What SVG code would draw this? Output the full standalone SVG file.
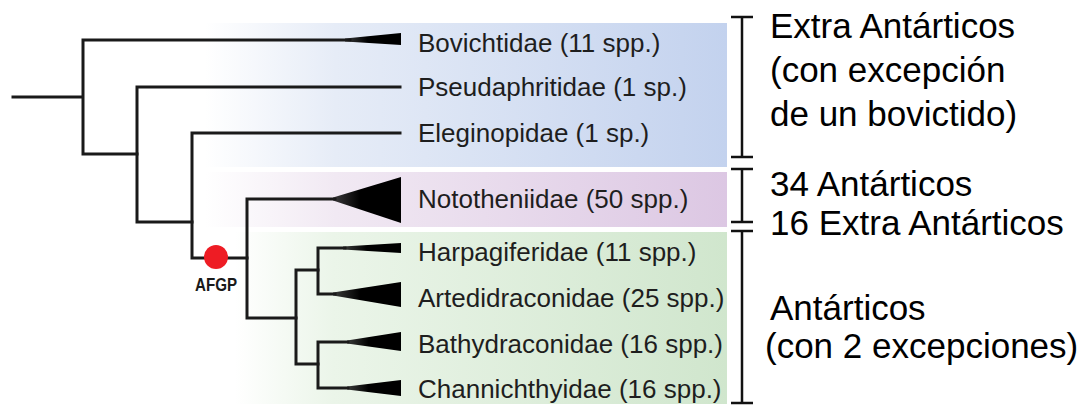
<svg xmlns="http://www.w3.org/2000/svg" width="1085" height="405" viewBox="0 0 1085 405">
  <defs>
    <linearGradient id="gBlue" x1="0" y1="0" x2="1" y2="0">
      <stop offset="0" stop-color="#ffffff"/>
      <stop offset="0.25" stop-color="#e6ecf7"/>
      <stop offset="1" stop-color="#c3d2ee"/>
    </linearGradient>
    <linearGradient id="gPink" x1="0" y1="0" x2="1" y2="0">
      <stop offset="0" stop-color="#ffffff"/>
      <stop offset="0.25" stop-color="#f1e9f3"/>
      <stop offset="1" stop-color="#dcc7e3"/>
    </linearGradient>
    <linearGradient id="gGreen" x1="0" y1="0" x2="1" y2="0">
      <stop offset="0" stop-color="#ffffff"/>
      <stop offset="0.2" stop-color="#ebf5e9"/>
      <stop offset="1" stop-color="#d0e6cd"/>
    </linearGradient>
    <linearGradient id="gWedge" x1="0" y1="0" x2="1" y2="0">
      <stop offset="0" stop-color="#1a1a1a" stop-opacity="0.85"/>
      <stop offset="0.4" stop-color="#000000"/>
      <stop offset="1" stop-color="#000000"/>
    </linearGradient>
  </defs>
  <style>
    .ln { stroke: #1a1a1a; stroke-width: 3; fill: none; stroke-linecap: square; }
    .br { stroke: #111111; stroke-width: 2.5; fill: none; }
    .wedge { fill: url(#gWedge); }
    .tax { font-family: "Liberation Sans", Arial, sans-serif; font-size: 26px; fill: #1e1e1e; }
    .grp { font-family: "Liberation Sans", Arial, sans-serif; font-size: 35px; fill: #000000; }
    .afgp { font-family: "Liberation Sans", Arial, sans-serif; font-size: 18px; font-weight: bold; fill: #1a1a1a; }
  </style>

  <!-- background panels -->
  <rect x="205" y="23" width="522" height="144" fill="url(#gBlue)"/>
  <rect x="205" y="172" width="522" height="55" fill="url(#gPink)"/>
  <rect x="235" y="232" width="492" height="172" fill="url(#gGreen)"/>

  <!-- connectors (tree branches) -->
  <g id="connectors">
    <path class="ln" d="M13 97 H83 M83 40 V154 M83 40 H350 M83 154 H137"/>
    <path class="ln" d="M137 87 V222 M137 87 H400 M137 222 H192"/>
    <path class="ln" d="M192 133 V258 M192 133 H400 M192 258 H247"/>
    <path class="ln" d="M247 199 V318 M247 199 H335 M247 318 H296"/>
    <path class="ln" d="M296 270 V364 M296 270 H318 M296 364 H318"/>
    <path class="ln" d="M318 248 V294 M318 248 H345 M318 294 H335"/>
    <path class="ln" d="M318 342 V388 M318 342 H348 M318 388 H348"/>
  </g>

  <!-- AFGP marker -->
  <g id="afgp">
    <circle cx="216" cy="257" r="12" fill="#ee1c24"/>
    <text class="afgp" x="216" y="291" text-anchor="middle" textLength="42" lengthAdjust="spacingAndGlyphs">AFGP</text>
  </g>

  <!-- taxa -->
  <g id="bovichtidae">
    <polygon class="wedge" points="345,38.5 401,33 401,45 345,41.5"/>
    <text class="tax" x="418" y="52">Bovichtidae (11 spp.)</text>
  </g>
  <g id="pseudaphritidae">
    <text class="tax" x="418" y="96">Pseudaphritidae (1 sp.)</text>
  </g>
  <g id="eleginopidae">
    <text class="tax" x="418" y="142">Eleginopidae (1 sp.)</text>
  </g>
  <g id="nototheniidae">
    <polygon class="wedge" points="333,197.5 401,177 401,223 333,200.5"/>
    <text class="tax" x="418" y="208">Nototheniidae (50 spp.)</text>
  </g>
  <g id="harpagiferidae">
    <polygon class="wedge" points="343,246.5 401,243 401,253 343,249.5"/>
    <text class="tax" x="418" y="261">Harpagiferidae (11 spp.)</text>
  </g>
  <g id="artedidraconidae">
    <polygon class="wedge" points="333,292.5 401,282 401,307 333,295.5"/>
    <text class="tax" x="418" y="307">Artedidraconidae (25 spp.)</text>
  </g>
  <g id="bathydraconidae">
    <polygon class="wedge" points="347,340.5 401,332 401,351 347,343.5"/>
    <text class="tax" x="418" y="353">Bathydraconidae (16 spp.)</text>
  </g>
  <g id="channichthyidae">
    <polygon class="wedge" points="347,386.5 401,380 401,396 347,389.5"/>
    <text class="tax" x="418" y="398">Channichthyidae (16 spp.)</text>
  </g>

  <!-- brackets and group labels -->
  <g id="group-extra">
    <path class="br" d="M731 17 H753 M742 17 V157 M731 157 H753"/>
    <text class="grp" x="770" y="38">Extra Antárticos</text>
    <text class="grp" x="770" y="82">(con excepción</text>
    <text class="grp" x="770" y="126">de un bovictido)</text>
  </g>
  <g id="group-noto">
    <path class="br" d="M731 169 H753 M742 169 V222 M731 222 H753"/>
    <text class="grp" x="770" y="196">34 Antárticos</text>
    <text class="grp" x="770" y="235">16 Extra Antárticos</text>
  </g>
  <g id="group-antarctic">
    <path class="br" d="M731 231 H753 M742 231 V403 M731 403 H753"/>
    <text class="grp" x="770" y="320">Antárticos</text>
    <text class="grp" x="765" y="358">(con 2 excepciones)</text>
  </g>
</svg>
